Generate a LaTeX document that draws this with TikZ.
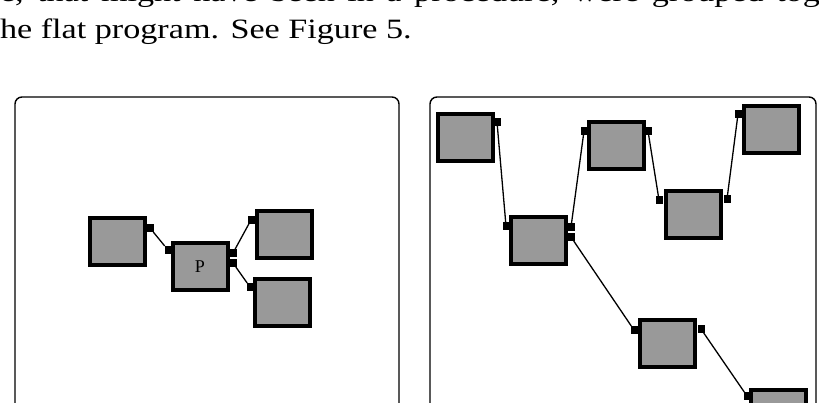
\documentclass[tikz,border=0pt]{standalone}
\usepackage{graphicx}
\usepackage{fontspec}
\setmainfont{Liberation Serif}
\begin{document}
\begin{tikzpicture}[x=1pt,y=-1pt,
  every node/.style={inner sep=0pt,outer sep=0pt},
  textline/.style={anchor=base west,font=\fontsize{28}{32}\selectfont},
  panel/.style={line width=1.4pt,rounded corners=7pt},
  block/.style={draw,line width=4pt,fill=black!40,minimum width=55pt,minimum height=47pt},
  port/.style={fill=black,minimum width=7pt,minimum height=8pt},
  wire/.style={line width=1.3pt}]
\useasboundingbox (0,0) rectangle (819,402);
\clip (0,0) rectangle (819,402);
\node[textline] (line1) at (0,1)
  {\scalebox{1.22}[1]{\makebox[672pt][s]{e, that might have been in a procedure, were grouped tog}}};
\node[textline] (line2) at (0,38) {\scalebox{1.22}[1]{he flat program. See Figure 5.}};
\draw[panel] (15,420) -- (15,97) -- (399,97) -- (399,420);
\draw[panel] (430,420) -- (430,97) -- (816,97) -- (816,420);
\node[block] (a) at (117.5,241.5) {};
\node[block] (p) at (200,266.5) {\fontsize{18}{18}\selectfont P};
\node[block] (b1) at (284,234) {};
\node[block] (b2) at (282.5,302.5) {};
\node[block] (r1) at (465,137.5) {};
\node[block] (r2) at (538,240) {};
\node[block] (r3) at (616,145.5) {};
\node[block] (r4) at (693,214) {};
\node[block] (r5) at (771,129) {};
\node[block] (r6) at (667,343.5) {};
\node[block] (r7) at (778,413.5) {};
\node[port] (a-o) at (150,228) {};
\node[port] (p-i) at (168,250) {};
\node[port] (p-o1) at (233,253) {};
\node[port] (p-o2) at (233,263) {};
\node[port] (b1-i) at (251,220) {};
\node[port] (b2-i) at (250,287) {};
\node[port] (r1-o) at (497,122) {};
\node[port] (r2-i) at (506,226) {};
\node[port] (r2-o1) at (571,227) {};
\node[port] (r2-o2) at (571,237) {};
\node[port] (r3-i) at (584,131) {};
\node[port] (r3-o) at (648,131) {};
\node[port] (r4-i) at (659,200) {};
\node[port] (r4-o) at (727,199) {};
\node[port] (r5-i) at (738,114) {};
\node[port] (r6-i) at (634,330) {};
\node[port] (r6-o) at (701,329) {};
\node[port] (r7-i) at (747,396) {};
\draw[wire] (a-o) -- (p-i);
\draw[wire] (p-o1) -- (b1-i);
\draw[wire] (p-o2) -- (b2-i);
\draw[wire] (r1-o) -- (r2-i);
\draw[wire] (r2-o1) -- (r3-i);
\draw[wire] (r3-o) -- (r4-i);
\draw[wire] (r4-o) -- (r5-i);
\draw[wire] (r2-o2) -- (r6-i);
\draw[wire] (r6-o) -- (r7-i);
\end{tikzpicture}
\end{document}
